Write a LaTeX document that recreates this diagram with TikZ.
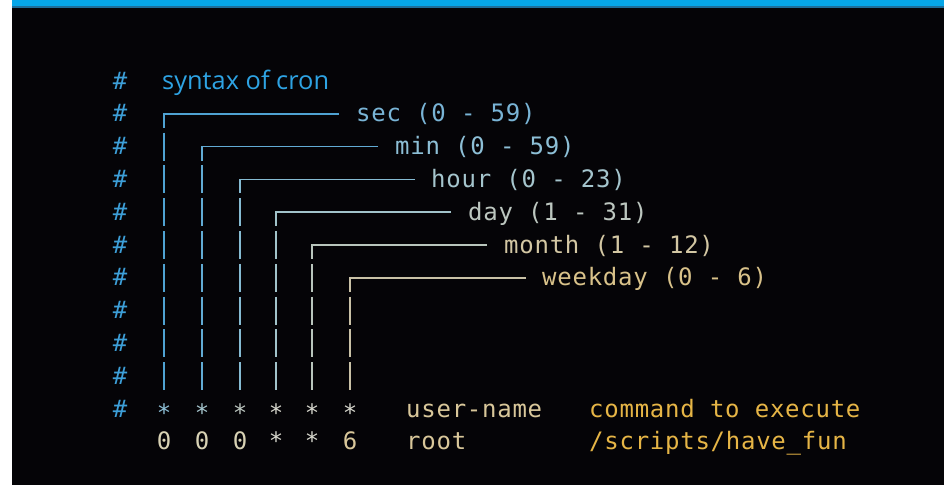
\documentclass[tikz,border=0pt]{standalone}
\usepackage{fontspec}
\newfontfamily\mono[LetterSpace=3.1]{DejaVu Sans Mono}
\newfontfamily\monoc{DejaVu Sans Mono}
\newfontfamily\uisans{Open Sans}

% palette: a slide-like dark terminal, blue fading to amber
\definecolor{bg}{HTML}{050407}
\definecolor{barblue}{HTML}{06A6E8}
\definecolor{bardark}{HTML}{1E6E9A}
\definecolor{hashblue}{HTML}{3D9FD8}
\definecolor{titleblue}{HTML}{2EA3E3}
\definecolor{c0}{HTML}{4FA2D2}
\definecolor{c1}{HTML}{62ABD4}
\definecolor{c2}{HTML}{86BBD2}
\definecolor{c3}{HTML}{A2C3CA}
\definecolor{c4}{HTML}{B9C5BC}
\definecolor{c5}{HTML}{C9C1A6}
\definecolor{t0}{HTML}{79B4D6}
\definecolor{t1}{HTML}{8DBFD6}
\definecolor{t2}{HTML}{A5C5CD}
\definecolor{t3}{HTML}{BCC6BF}
\definecolor{t4}{HTML}{D3C7A3}
\definecolor{t5}{HTML}{D9C28A}
\definecolor{usertxt}{HTML}{D9C79A}
\definecolor{cmdtxt}{HTML}{E6B546}
\definecolor{valtxt}{HTML}{D8D2B4}
\definecolor{startxt}{HTML}{D6D6CC}

\begin{document}
\begin{tikzpicture}[x=1pt,y=-1pt,
  txt/.style={inner sep=0pt, anchor=base west, font=\fontsize{24}{28}\selectfont\mono},
  ch/.style={inner sep=0pt, anchor=base, font=\fontsize{24}{28}\selectfont\monoc},
  starch/.style={ch, yshift=-4pt},
  hash/.style={ch, text=hashblue},
  rail/.style={line width=1.7pt, line cap=butt, line join=miter}]

% frame: white strip at the left, dark panel, blue top bar
\fill[white] (0,0) rectangle (944,485);
\fill[bg] (12,0) rectangle (944,485);
\fill[barblue] (12,0) rectangle (944,6);
\fill[bardark] (12,6) rectangle (944,7.5);
\useasboundingbox (0,0) rectangle (944,485);

% comment markers down the left
\foreach \i in {0,...,10}
  \node[hash] (h\i) at (120, {89+32.8*\i}) {\#};

% title
\node[inner sep=0pt, anchor=base west, font=\fontsize{25.4}{30}\selectfont\uisans, text=titleblue]
  (title) at (162, 89) {syntax of cron};

% the six time fields: bracket, rail down to the field, label
\foreach \k/\cx/\col/\tc/\lab/\lx/\le in {
    0/164/c0/t0/{sec (0 - 59)}/356/339,
    1/202/c1/t1/{min (0 - 59)}/395/378,
    2/240/c2/t2/{hour (0 - 23)}/431/415,
    3/276/c3/t3/{day (1 - 31)}/468/451,
    4/312/c4/t4/{month (1 - 12)}/504/487,
    5/350/c5/t5/{weekday (0 - 6)}/542/526} {
  \pgfmathsetmacro\b{89+32.8*(\k+1)}
  \node[txt, text=\tc] (lab\k) at (\lx, \b) {\lab};
  \coordinate (end\k) at (\le, \b-8);
  \coordinate (top\k) at (\cx, \b-8);
  \draw[rail, \col] (end\k) -- (top\k) -- (\cx, \b+6);
  \pgfmathtruncatemacro\rs{\k+2}
  \foreach \j in {\rs,...,9} {
    \pgfmathsetmacro\bb{89+32.8*\j}
    \draw[rail, \col] (\cx, \bb-22) -- (\cx, \bb+6);
  }
}

% header row of the entry
\foreach \k/\cx/\sc in {0/164/t1, 1/202/t2, 2/240/t3, 3/276/startxt, 4/312/startxt, 5/350/startxt}
  \node[starch, text=\sc] (star\k) at (\cx, {89+32.8*10}) {*};
\node[txt, text=usertxt] (userhdr) at (406, {89+32.8*10}) {user-name};
\node[txt, text=cmdtxt] (cmdhdr) at (589, {89+32.8*10}) {command to execute};

% example entry
\foreach \k/\cx/\v/\vc in {0/164/0/valtxt, 1/202/0/valtxt, 2/240/0/valtxt, 3/276/*/startxt, 4/312/*/startxt, 5/350/6/usertxt}
  \node[ch, text=\vc] (val\k) at (\cx, {89+32.8*11}) {\v};
\node[txt, text=usertxt] (user) at (406, {89+32.8*11}) {root};
\node[txt, text=cmdtxt] (cmd) at (589, {89+32.8*11}) {/scripts/have\_fun};

\end{tikzpicture}
\end{document}
